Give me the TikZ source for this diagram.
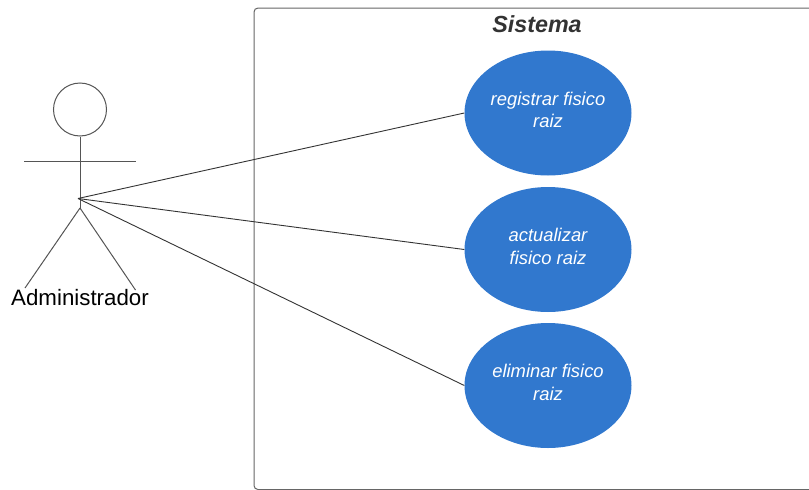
\documentclass[tikz,border=0pt]{standalone}
\usepackage{fontspec}
\setmainfont{Liberation Sans}
\usetikzlibrary{shapes.geometric}
\definecolor{usecase}{HTML}{3178CE}
\definecolor{linegray}{HTML}{333333}
\definecolor{actorgray}{HTML}{555555}
\definecolor{boxgray}{HTML}{666666}
\tikzset{
  usecase/.style={ellipse,fill=usecase,minimum width=167pt,minimum height=125pt,inner sep=0pt,
    text=white,font=\itshape\fontsize{18.4}{22.5}\selectfont,align=center,text depth=6.5pt},
  link/.style={draw=linegray,line width=0.9pt},
  limb/.style={draw=actorgray,line width=1pt},
}
\begin{document}
\begin{tikzpicture}[x=1pt,y=-1pt]
  \useasboundingbox (0,0) rectangle (809,490);
  \draw[draw=boxgray,line width=1pt,rounded corners=4pt] (254,8) rectangle (825,489.5);
  \clip (0,0) rectangle (809,490);
  \node (title) at (537,24.5) {\fontsize{23.3}{26}\selectfont\bfseries\itshape\color{linegray}Sistema};
  \node[usecase] (0) at (548,113) {registrar fisico\\raiz};
  \node[usecase] (1) at (548,249.5) {actualizar\\fisico raiz};
  \node[usecase] (2) at (548,385.5) {eliminar fisico\\raiz};
  \node[circle,draw=actorgray,line width=1pt,minimum size=53pt,inner sep=0pt] (head) at (80,109.5) {};
  \coordinate (hip) at (80,208);
  \coordinate (hub) at (78,198.5);
  \coordinate (armL) at (24,161);
  \coordinate (armR) at (136,161);
  \coordinate (footL) at (25,288);
  \coordinate (footR) at (135.5,290);
  \node[inner sep=0pt] (actor) at (80,298) {\fontsize{22.3}{25}\selectfont Administrador};
  \begin{scope}[limb]
    \draw (head) to (hip);
    \draw (armL) to (armR);
    \draw (hip) to (footL);
    \draw (hip) to (footR);
  \end{scope}
  \begin{scope}[link]
    \draw (hub) to (0.west);
    \draw (hub) to (1.west);
    \draw (hub) to (2.west);
  \end{scope}
\end{tikzpicture}
\end{document}
